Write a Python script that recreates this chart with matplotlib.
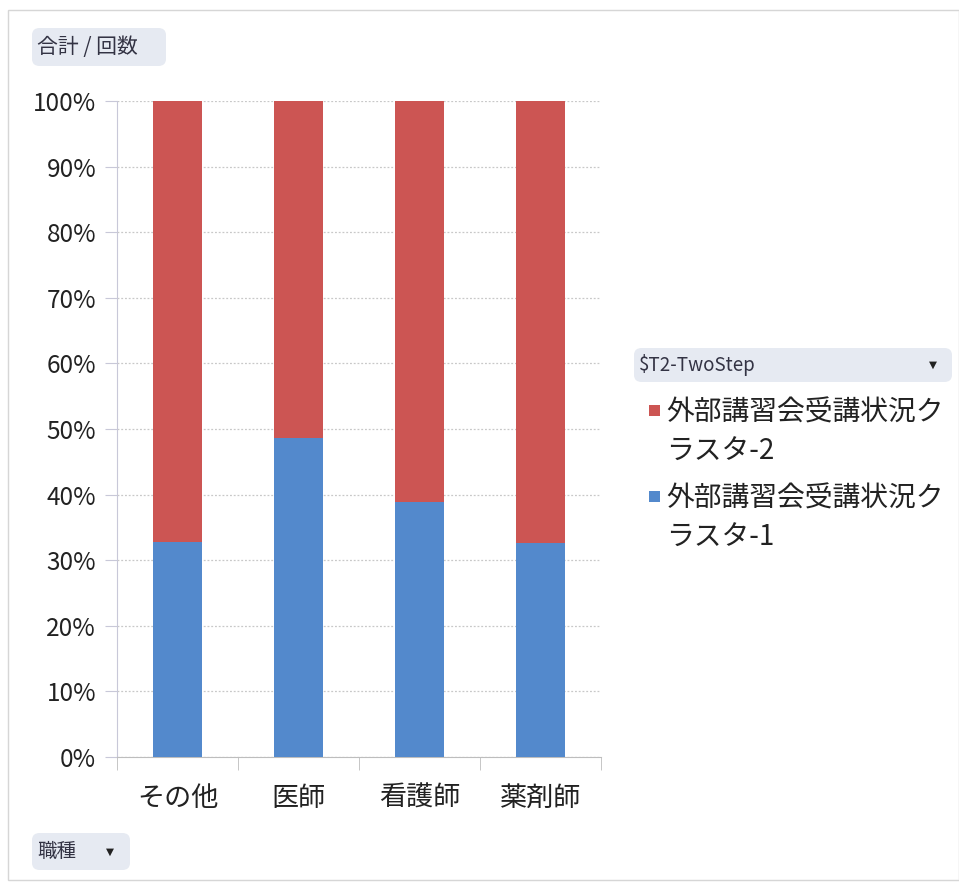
import matplotlib
matplotlib.use("Agg")
import matplotlib.pyplot as plt
from matplotlib.patches import FancyBboxPatch, Rectangle
from matplotlib.ticker import FuncFormatter, FixedLocator

plt.rcParams['font.family'] = ['Noto Sans CJK JP', 'DejaVu Sans']

categories = ["その他", "医師", "看護師", "薬剤師"]
cluster1 = [32.7, 48.7, 38.9, 32.6]
cluster2 = [100 - v for v in cluster1]
series_names = ["外部講習会受講状況ク\nラスタ-2", "外部講習会受講状況ク\nラスタ-1"]
field_value = "合計 / 回数"
field_legend = "$T2-TwoStep"
field_axis = "職種"

RED = "#CC5553"
BLUE = "#5389CC"
GRID = "#C8C8C8"

W, H = 959, 885
fig = plt.figure(figsize=(W / 100, H / 100), dpi=100)
fig.patch.set_facecolor("white")

# outer chart frame
fig.add_artist(Rectangle((8 / W, 1 - 880 / H), (W - 8) / W, (880 - 10) / H,
                         transform=fig.transFigure, fill=False,
                         edgecolor="#D6D6D6", linewidth=1.0))

ax = fig.add_axes([117 / W, 1 - 757 / H, (601 - 117) / W, (757 - 101) / H])
x = list(range(len(categories)))
ax.bar(x, cluster1, width=0.4, color=BLUE, zorder=3)
ax.bar(x, cluster2, width=0.4, bottom=cluster1, color=RED, zorder=3)

ax.set_xlim(-0.5, len(categories) - 0.5)
ax.set_ylim(0, 100)
ax.set_yticks(range(0, 101, 10))
ax.yaxis.set_major_formatter(FuncFormatter(lambda v, p: f"{int(v)}%"))
ax.grid(axis="y", color=GRID, linestyle=(0, (1.5, 1.5)), linewidth=0.9, zorder=0)

ax.set_xticks(x)
ax.set_xticklabels(categories, fontsize=19.5, color="#222222")
ax.xaxis.set_minor_locator(FixedLocator([i - 0.5 for i in range(len(categories) + 1)]))
ax.tick_params(axis="x", which="major", length=0, pad=20)
ax.tick_params(axis="x", which="minor", length=9, color="#BDBDBD", direction="out")
ax.tick_params(axis="y", length=9, color="#C8C8D8", labelsize=17.5,
               labelcolor="#222222", pad=6)

for side in ("top", "right"):
    ax.spines[side].set_visible(False)
ax.spines["left"].set_color("#C8C8D8")
ax.spines["bottom"].set_color("#BDBDBD")


def field_button(x0, y0, x1, y1, text, arrow=None, size=11):
    fig.add_artist(FancyBboxPatch((x0 / W, 1 - y1 / H), (x1 - x0) / W, (y1 - y0) / H,
                                  boxstyle="round,pad=0,rounding_size=0.008",
                                  transform=fig.transFigure, facecolor="#E6EAF2",
                                  edgecolor="none"))
    fig.text((x0 + 5) / W, 1 - (y0 + y1) / 2 / H, text, fontsize=size,
             color="#333344", va="center", ha="left")
    if arrow is not None:
        fig.text(arrow / W, 1 - (y0 + y1) / 2 / H, "▼", fontsize=7.5,
                 color="#222222", va="center", ha="center",
                 family=["DejaVu Sans"])


field_button(32, 28, 166, 66, field_value, size=15)
field_button(32, 833, 130, 870, field_axis, arrow=110, size=14)
field_button(634, 348, 952, 382, field_legend, arrow=933, size=13.5)

# legend entries: square beside the first line, label wrapped onto two lines
legend_items = [(series_names[0], RED, 410), (series_names[1], BLUE, 496)]
for label, color, ymid in legend_items:
    fig.add_artist(Rectangle((649 / W, 1 - (ymid + 6) / H), 11 / W, 11 / H,
                             transform=fig.transFigure, facecolor=color,
                             edgecolor="none"))
    fig.text(666 / W, 1 - (ymid - 12) / H, label, fontsize=20, color="#222222",
             va="top", ha="left", linespacing=1.38)

fig.savefig("out.png", dpi=100)
